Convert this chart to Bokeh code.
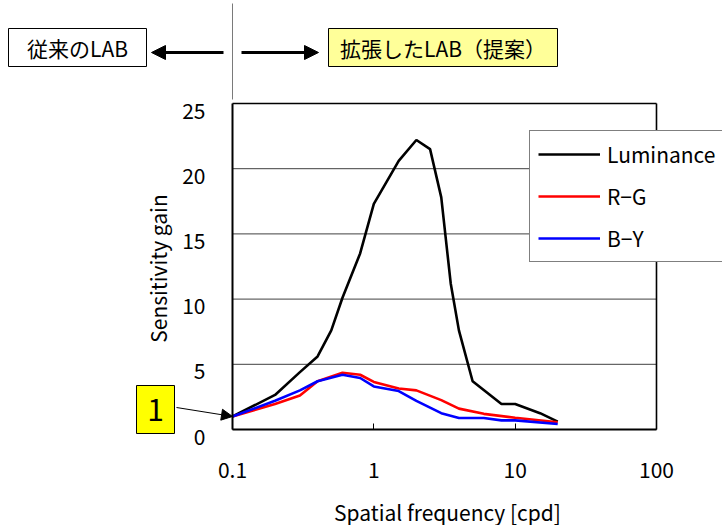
import math
from bokeh.plotting import figure
from bokeh.models import (FixedTicker, Label, Arrow, NormalHead, BoxAnnotation)
from bokeh.embed import file_html
from bokeh.resources import INLINE

# ---- data ----
lum_freq = [0.1, 0.2, 0.3, 0.4, 0.5, 0.6, 0.8, 1, 1.5, 2, 2.5, 3, 3.5, 4, 5, 8, 10, 15, 20]
lum_gain = [1.0, 2.65, 4.4, 5.6, 7.6, 10.1, 13.5, 17.3, 20.6, 22.2, 21.5, 17.8, 11.2, 7.6, 3.7, 1.95, 1.95, 1.25, 0.6]

rg_freq = [0.1, 0.2, 0.3, 0.4, 0.6, 0.8, 1, 1.5, 2, 3, 4, 6, 10, 20]
rg_gain = [1.0, 1.95, 2.6, 3.7, 4.35, 4.2, 3.65, 3.15, 3.0, 2.25, 1.6, 1.2, 0.9, 0.55]

by_freq = [0.1, 0.2, 0.3, 0.4, 0.6, 0.8, 1, 1.5, 2, 3, 4, 6, 8, 10, 20]
by_gain = [1.0, 2.2, 3.0, 3.7, 4.2, 3.95, 3.3, 2.95, 2.2, 1.25, 0.88, 0.88, 0.7, 0.7, 0.42]

series_names = ["Luminance", "R\u2212G", "B\u2212Y"]
series_colors = ["black", "#FF0000", "#0000FF"]

x_ticks = [0.1, 1, 10, 100]
x_tick_labels = ["0.1", "1", "10", "100"]
y_ticks = [0, 5, 10, 15, 20, 25]
y_tick_labels = ["0", "5", "10", "15", "20", "25"]
y_grid = [5, 10, 15, 20]

x_title = "Spatial frequency [cpd]"
y_title = "Sensitivity gain"
left_box_text = "従来のLAB"
right_box_text = "拡張したLAB（提案）"
marker_text = "1"

FONT = "Noto Sans CJK JP"
FS = "21px"
W, H = 722, 525

# pixel -> data helpers (plot area: x 0.1..100 at px 232..656, y 0..25 at px 429..103)
FL, FB, DEC, UNIT = 232.0, 429.0, 141.33, 13.04
def dx(px):
    return 10 ** (math.log10(x_ticks[0]) + (px - FL) / DEC)
def dy(py):
    return (FB - py) / UNIT

p = figure(width=W, height=H, x_axis_type="log",
           x_range=(dx(0), dx(W)), y_range=(dy(H), dy(0)),
           output_backend="svg", toolbar_location=None, min_border=0)
p.background_fill_color = "white"
p.border_fill_color = "white"
p.outline_line_color = None
p.xgrid.visible = False
p.ygrid.visible = False

# ---- axes drawn at the plot-area edges ----
xa = p.xaxis[0]
xa.fixed_location = y_ticks[0]
xa.bounds = (x_ticks[0], x_ticks[-1])
xa.ticker = FixedTicker(ticks=x_ticks, minor_ticks=[])
xa.major_label_overrides = {t: l for t, l in zip(x_ticks, x_tick_labels)}
xa.major_tick_in = 6
xa.major_tick_out = 0
xa.minor_tick_in = 0
xa.minor_tick_out = 0
xa.major_label_standoff = 32
xa.major_label_text_font = FONT
xa.major_label_text_font_size = FS
xa.major_label_text_color = "black"
xa.axis_line_color = "black"
xa.axis_line_width = 2
xa.major_tick_line_color = "black"
xa.major_tick_line_width = 1

ya = p.yaxis[0]
ya.fixed_location = x_ticks[0]
ya.bounds = (y_ticks[0], y_ticks[-1])
ya.ticker = FixedTicker(ticks=[], minor_ticks=[])
ya.major_tick_in = 0
ya.major_tick_out = 0
ya.minor_tick_in = 0
ya.minor_tick_out = 0
ya.axis_line_color = "black"
ya.axis_line_width = 2

# y tick labels (sit slightly below their value, as in the original)
for v, t in zip(y_ticks, y_tick_labels):
    p.add_layout(Label(x=x_ticks[0], y=v, text=t, x_offset=-27, y_offset=-7,
                       text_align="right", text_baseline="middle",
                       text_font=FONT, text_font_size=FS, text_color="black"))

# axis titles
p.add_layout(Label(x=dx(157), y=(y_ticks[0] + y_ticks[-1]) / 2, y_offset=-2, text=y_title,
                   angle=math.pi / 2, text_align="center", text_baseline="middle",
                   text_font=FONT, text_font_size=FS, text_color="black"))
p.add_layout(Label(x=math.sqrt(x_ticks[0] * x_ticks[-1]), y=dy(511), x_offset=3, text=x_title,
                   text_align="center", text_baseline="middle",
                   text_font=FONT, text_font_size=FS, text_color="black"))

# grid lines and plot-area border (top, right)
p.segment(x0=[x_ticks[0]] * len(y_grid), x1=[x_ticks[-1]] * len(y_grid), y0=y_grid, y1=y_grid,
          line_color="#404040", line_width=1)
p.segment(x0=[x_ticks[0], x_ticks[-1]], x1=[x_ticks[-1], x_ticks[-1]],
          y0=[y_ticks[-1], y_ticks[0]], y1=[y_ticks[-1], y_ticks[-1]],
          line_color="black", line_width=1.6)

# ---- series ----
for fx, gy, name, col in zip([lum_freq, rg_freq, by_freq], [lum_gain, rg_gain, by_gain],
                             series_names, series_colors):
    p.line(fx, gy, line_color=col, line_width=2.6, legend_label=name)

lg = p.legend[0]
lg.location = (529, H - 262)
lg.border_line_color = "black"
lg.border_line_width = 1.5
lg.background_fill_color = "white"
lg.background_fill_alpha = 1
lg.padding = 8
lg.spacing = 12
lg.margin = 0
lg.glyph_width = 62
lg.glyph_height = 30
lg.label_height = 30
lg.label_standoff = 7
lg.label_text_font = FONT
lg.label_text_font_size = FS
lg.label_text_color = "black"

# ---- annotations above the chart ----
p.segment(x0=[x_ticks[0]], x1=[x_ticks[0]], y0=[dy(3)], y1=[dy(99)],
          line_color="#7a7a7a", line_width=1)

p.add_layout(BoxAnnotation(left=dx(8), right=dx(146), top=dy(28), bottom=dy(66),
                           fill_color="white", fill_alpha=1, line_color="black",
                           line_width=1, line_alpha=1))
p.add_layout(Label(x=dx(77), y=dy(47), text=left_box_text, text_align="center",
                   text_baseline="middle", text_font=FONT, text_font_size=FS,
                   text_color="black"))

p.add_layout(BoxAnnotation(left=dx(328), right=dx(557), top=dy(28), bottom=dy(66),
                           fill_color="#FFFF99", fill_alpha=1, line_color="black",
                           line_width=1, line_alpha=1))
p.add_layout(Label(x=dx(442.5), y=dy(47), text=right_box_text, text_align="center",
                   text_baseline="middle", text_font=FONT, text_font_size=FS,
                   text_color="black"))

p.add_layout(Arrow(x_start=dx(223), y_start=dy(52), x_end=dx(151), y_end=dy(52),
                   line_color="black", line_width=3,
                   end=NormalHead(size=14, fill_color="black", line_color="black", line_width=1)))
p.add_layout(Arrow(x_start=dx(241), y_start=dy(52), x_end=dx(318), y_end=dy(52),
                   line_color="black", line_width=3,
                   end=NormalHead(size=14, fill_color="black", line_color="black", line_width=1)))

# yellow "1" marker with arrow to the starting value
p.add_layout(BoxAnnotation(left=dx(136), right=dx(174), top=dy(385), bottom=dy(433),
                           fill_color="#FFFF00", fill_alpha=1, line_color="black",
                           line_width=1, line_alpha=1))
p.add_layout(Label(x=dx(155), y=dy(409), text=marker_text, text_align="center",
                   text_baseline="middle", text_font=FONT, text_font_size="30px",
                   text_color="black"))
p.add_layout(Arrow(x_start=dx(176), y_start=dy(407), x_end=lum_freq[0], y_end=lum_gain[0],
                   line_color="black", line_width=1,
                   end=NormalHead(size=11, fill_color="black", line_color="black", line_width=1)))

open("out.html", "w").write(file_html(p, INLINE))
